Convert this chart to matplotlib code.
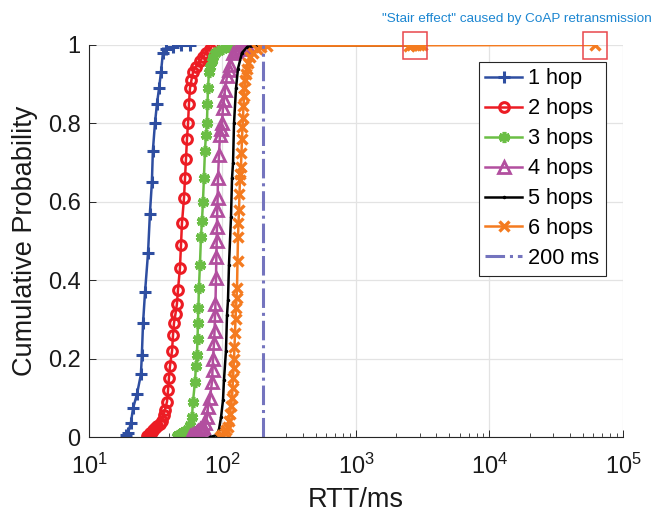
import matplotlib
matplotlib.use("Agg")
import matplotlib.pyplot as plt
from matplotlib.patches import Rectangle
from matplotlib.ticker import FixedLocator, FixedFormatter, LogLocator, NullFormatter

plt.rcParams['font.family'] = ['Liberation Sans', 'DejaVu Sans']
plt.rcParams['mathtext.default'] = 'regular'

# ---- data (RTT in ms, cumulative probability) ----
rtt_1hop = [18.9, 19.6, 20.6, 21.4, 22.9, 24.5, 24.9, 25.4, 26.3, 27.7, 28.6, 29.6,
            30.1, 31.2, 32.3, 33.5, 34.6, 35.8, 38.0, 42.6, 49.0, 57.0]
cdf_1hop = [0.005, 0.01, 0.036, 0.074, 0.11, 0.16, 0.21, 0.29, 0.37, 0.47, 0.57, 0.65,
            0.73, 0.80, 0.85, 0.89, 0.93, 0.98, 0.99, 0.995, 1.0, 1.0]

rtt_2hops = [27.2, 28.0, 28.8, 29.5, 30.1, 31.2, 32.5, 33.8, 35.2, 36.2, 37.1, 38.4, 39.1,
             39.7, 40.4, 41.9, 42.6, 43.3, 44.5, 45.6, 46.4, 48.0, 48.9, 49.7, 51.5, 52.4,
             53.3, 54.2, 55.2, 56.1, 57.1, 58.5, 60.1, 63.0, 67.8, 72.0, 75.0, 80.5, 84.9]
cdf_2hops = [0.003, 0.006, 0.009, 0.013, 0.018, 0.022, 0.027, 0.033, 0.04, 0.055, 0.07, 0.09,
             0.12, 0.15, 0.18, 0.22, 0.26, 0.29, 0.315, 0.34, 0.375, 0.43, 0.49, 0.545, 0.61,
             0.66, 0.71, 0.76, 0.80, 0.85, 0.89, 0.91, 0.93, 0.945, 0.96, 0.97, 0.98, 0.99, 1.0]

rtt_3hops = [45.6, 46.5, 47.5, 48.5, 49.7, 51.0, 52.5, 55.2, 57.0, 59.1,
             60.1, 62.2, 63.3, 64.4, 65.0, 65.5, 66.0, 66.6, 67.8, 69.0,
             70.2, 71.4, 72.6, 73.9, 75.2, 76.5, 77.2, 77.9, 79.2, 81.0,
             83.4, 85.5, 87.9, 93.0, 99.1, 110.0, 120.0, 135.0, 2700.0]
cdf_3hops = [0.003, 0.004, 0.006, 0.008, 0.01, 0.012, 0.015, 0.02, 0.03, 0.05,
             0.09, 0.14, 0.18, 0.21, 0.25, 0.29, 0.33, 0.38, 0.44, 0.51,
             0.55, 0.60, 0.66, 0.73, 0.77, 0.80, 0.85, 0.89, 0.93, 0.945,
             0.96, 0.97, 0.98, 0.985, 0.99, 0.995, 0.998, 1.0, 1.0]

rtt_4hops = [57.1, 59.0, 61.0, 62.8, 64.4, 66.0, 68.0, 70.0, 71.4, 74.0,
             76.5, 77.9, 80.5, 83.4, 84.2, 84.9, 86.4, 87.2, 87.9, 88.6,
             89.4, 90.0, 90.5, 90.9, 91.4, 92.0, 92.5, 94.2, 95.8, 97.5,
             99.1, 100.9, 102.6, 104.4, 108.1, 111.0, 113.8, 120.0, 127.0, 135.0,
             145.0, 153.0]
cdf_4hops = [0.002, 0.004, 0.007, 0.01, 0.013, 0.016, 0.02, 0.023, 0.025, 0.035,
             0.05, 0.077, 0.10, 0.14, 0.17, 0.20, 0.24, 0.27, 0.31, 0.34,
             0.405, 0.46, 0.50, 0.535, 0.58, 0.61, 0.66, 0.72, 0.77, 0.785,
             0.80, 0.84, 0.86, 0.885, 0.92, 0.935, 0.95, 0.98, 0.985, 0.99,
             0.995, 1.0]

rtt_5hops = [80.5, 90.9, 94.2, 97.5, 100.9, 102.6, 106.2, 108.1, 110.0, 111.9,
             115.8, 117.9, 120.0, 122.0, 126.3, 130.7, 140.0, 153.0, 191.0, 2500.0]
cdf_5hops = [0.0, 0.005, 0.02, 0.05, 0.094, 0.145, 0.22, 0.31, 0.35, 0.44,
             0.56, 0.66, 0.70, 0.80, 0.89, 0.94, 0.98, 0.995, 0.998, 0.999]

rtt_6hops = [95.8, 100.0, 104.4, 107.0, 110.0, 112.0, 113.8, 116.0, 117.9, 119.0,
             120.0, 121.0, 122.0, 123.0, 124.1, 125.2, 126.3, 127.4, 128.5, 129.6,
             130.7, 131.8, 133.0, 134.1, 135.2, 136.4, 137.6, 138.8, 140.0, 141.2,
             142.5, 143.7, 145.0, 146.2, 147.5, 150.0, 152.7, 156.5, 160.8, 170.0,
             181.0, 195.0, 215.0, 2500.0, 2650.0, 2800.0, 2950.0, 3100.0, 62000.0]
cdf_6hops = [0.0, 0.005, 0.01, 0.017, 0.025, 0.04, 0.06, 0.08, 0.10, 0.125,
             0.15, 0.175, 0.20, 0.23, 0.265, 0.30, 0.33, 0.355, 0.38, 0.45,
             0.51, 0.545, 0.58, 0.62, 0.655, 0.67, 0.69, 0.725, 0.76, 0.79,
             0.815, 0.845, 0.87, 0.89, 0.91, 0.925, 0.94, 0.955, 0.97, 0.98,
             0.99, 0.995, 0.998, 0.9985, 0.9987, 0.9989, 0.9991, 0.9993, 1.0]

line_200ms_x = [200, 200]
line_200ms_y = [0, 1]

labels = ['1 hop', '2 hops', '3 hops', '4 hops', '5 hops', '6 hops', '200 ms']
yticks = [0, 0.2, 0.4, 0.6, 0.8, 1.0]
ytick_labels = ['0', '0.2', '0.4', '0.6', '0.8', '1']
xticks = [10, 100, 1000, 10000, 100000]
xtick_labels = ['$10^{1}$', '$10^{2}$', '$10^{3}$', '$10^{4}$', '$10^{5}$']
stair_boxes_x = [2750.0, 62000.0]
annotation = '"Stair effect" caused by CoAP retransmission'

# ---- figure ----
fig = plt.figure(figsize=(6.67, 5.13), dpi=100)
ax = fig.add_axes([0.1334, 0.1481, 0.8006, 0.7642])

c_blue = '#2E4EA1'
c_red = '#EC1C24'
c_green = '#6BBE45'
c_purple = '#B24F9F'
c_orange = '#F47B20'
c_dash = '#7474BE'

lw = 1.8
ax.plot(rtt_1hop, cdf_1hop, '-', marker='+', color=c_blue, lw=lw, ms=9, mew=2.2, label=labels[0])
ax.plot(rtt_2hops, cdf_2hops, '-', marker='o', color=c_red, lw=lw, ms=7, mew=2.2, mfc='none', label=labels[1])
ax.plot(rtt_3hops, cdf_3hops, '-', marker=(6, 2, 0), color=c_green, lw=lw, ms=8, mew=2.6, label=labels[2])
ax.plot(rtt_4hops, cdf_4hops, '-', marker='^', color=c_purple, lw=lw, ms=8, mew=2.0, mfc='none', label=labels[3])
ax.plot(rtt_5hops, cdf_5hops, '-', marker='.', color='black', lw=lw, ms=3, label=labels[4])
ax.plot(rtt_6hops, cdf_6hops, '-', marker='x', color=c_orange, lw=lw, ms=7, mew=2.4, label=labels[5])
ax.plot(line_200ms_x, line_200ms_y, '-.', color=c_dash, lw=2.2, label=labels[6])

ax.set_xscale('log')
ax.set_xlim(10, 1e5)
ax.set_ylim(0, 1)

ax.xaxis.set_major_locator(FixedLocator(xticks))
ax.xaxis.set_major_formatter(FixedFormatter(xtick_labels))
ax.xaxis.set_minor_locator(LogLocator(base=10, subs=range(2, 10), numticks=20))
ax.xaxis.set_minor_formatter(NullFormatter())
ax.yaxis.set_major_locator(FixedLocator(yticks))
ax.yaxis.set_major_formatter(FixedFormatter(ytick_labels))

ax.grid(True, which='major', color='#E3E3E3', lw=0.9)
ax.set_axisbelow(True)
for s in ['top', 'right']:
    ax.spines[s].set_visible(False)
for s in ['left', 'bottom']:
    ax.spines[s].set_color('#262626')
    ax.spines[s].set_linewidth(0.8)
ax.tick_params(axis='both', which='both', direction='in', colors='#262626', labelcolor='#1a1a1a',
               labelsize=17, top=False, right=False)
ax.tick_params(which='major', length=5, width=0.7)
ax.tick_params(axis='x', which='major', pad=12)
ax.tick_params(axis='y', which='major', pad=6)
ax.tick_params(which='minor', length=3, width=0.6)

ax.set_xlabel('RTT/ms', fontsize=19.5, labelpad=6, color='#1a1a1a')
ax.set_ylabel('Cumulative Probability', fontsize=19.5, labelpad=7, color='#1a1a1a')

# stair-effect boxes
for bx in stair_boxes_x:
    px, py = ax.transData.transform((bx, 1.0))
    r = Rectangle((px - 12, py - 14), 24, 27, transform=None, fill=False,
                  edgecolor='#E8474C', lw=1.1, clip_on=False, zorder=5)
    ax.add_artist(r)

fig.text(0.775, 0.962, annotation, color='#1C86D1', fontsize=9.7, ha='center', va='center')

leg = ax.legend(loc='upper left', bbox_to_anchor=(0.730, 0.957), fontsize=15.7, frameon=True,
                fancybox=False, edgecolor='#262626', framealpha=1, handlelength=1.7,
                handletextpad=0.25, labelspacing=0.41, borderpad=0.3, borderaxespad=0)
leg.get_frame().set_linewidth(0.8)

fig.savefig('out.png', dpi=100)
